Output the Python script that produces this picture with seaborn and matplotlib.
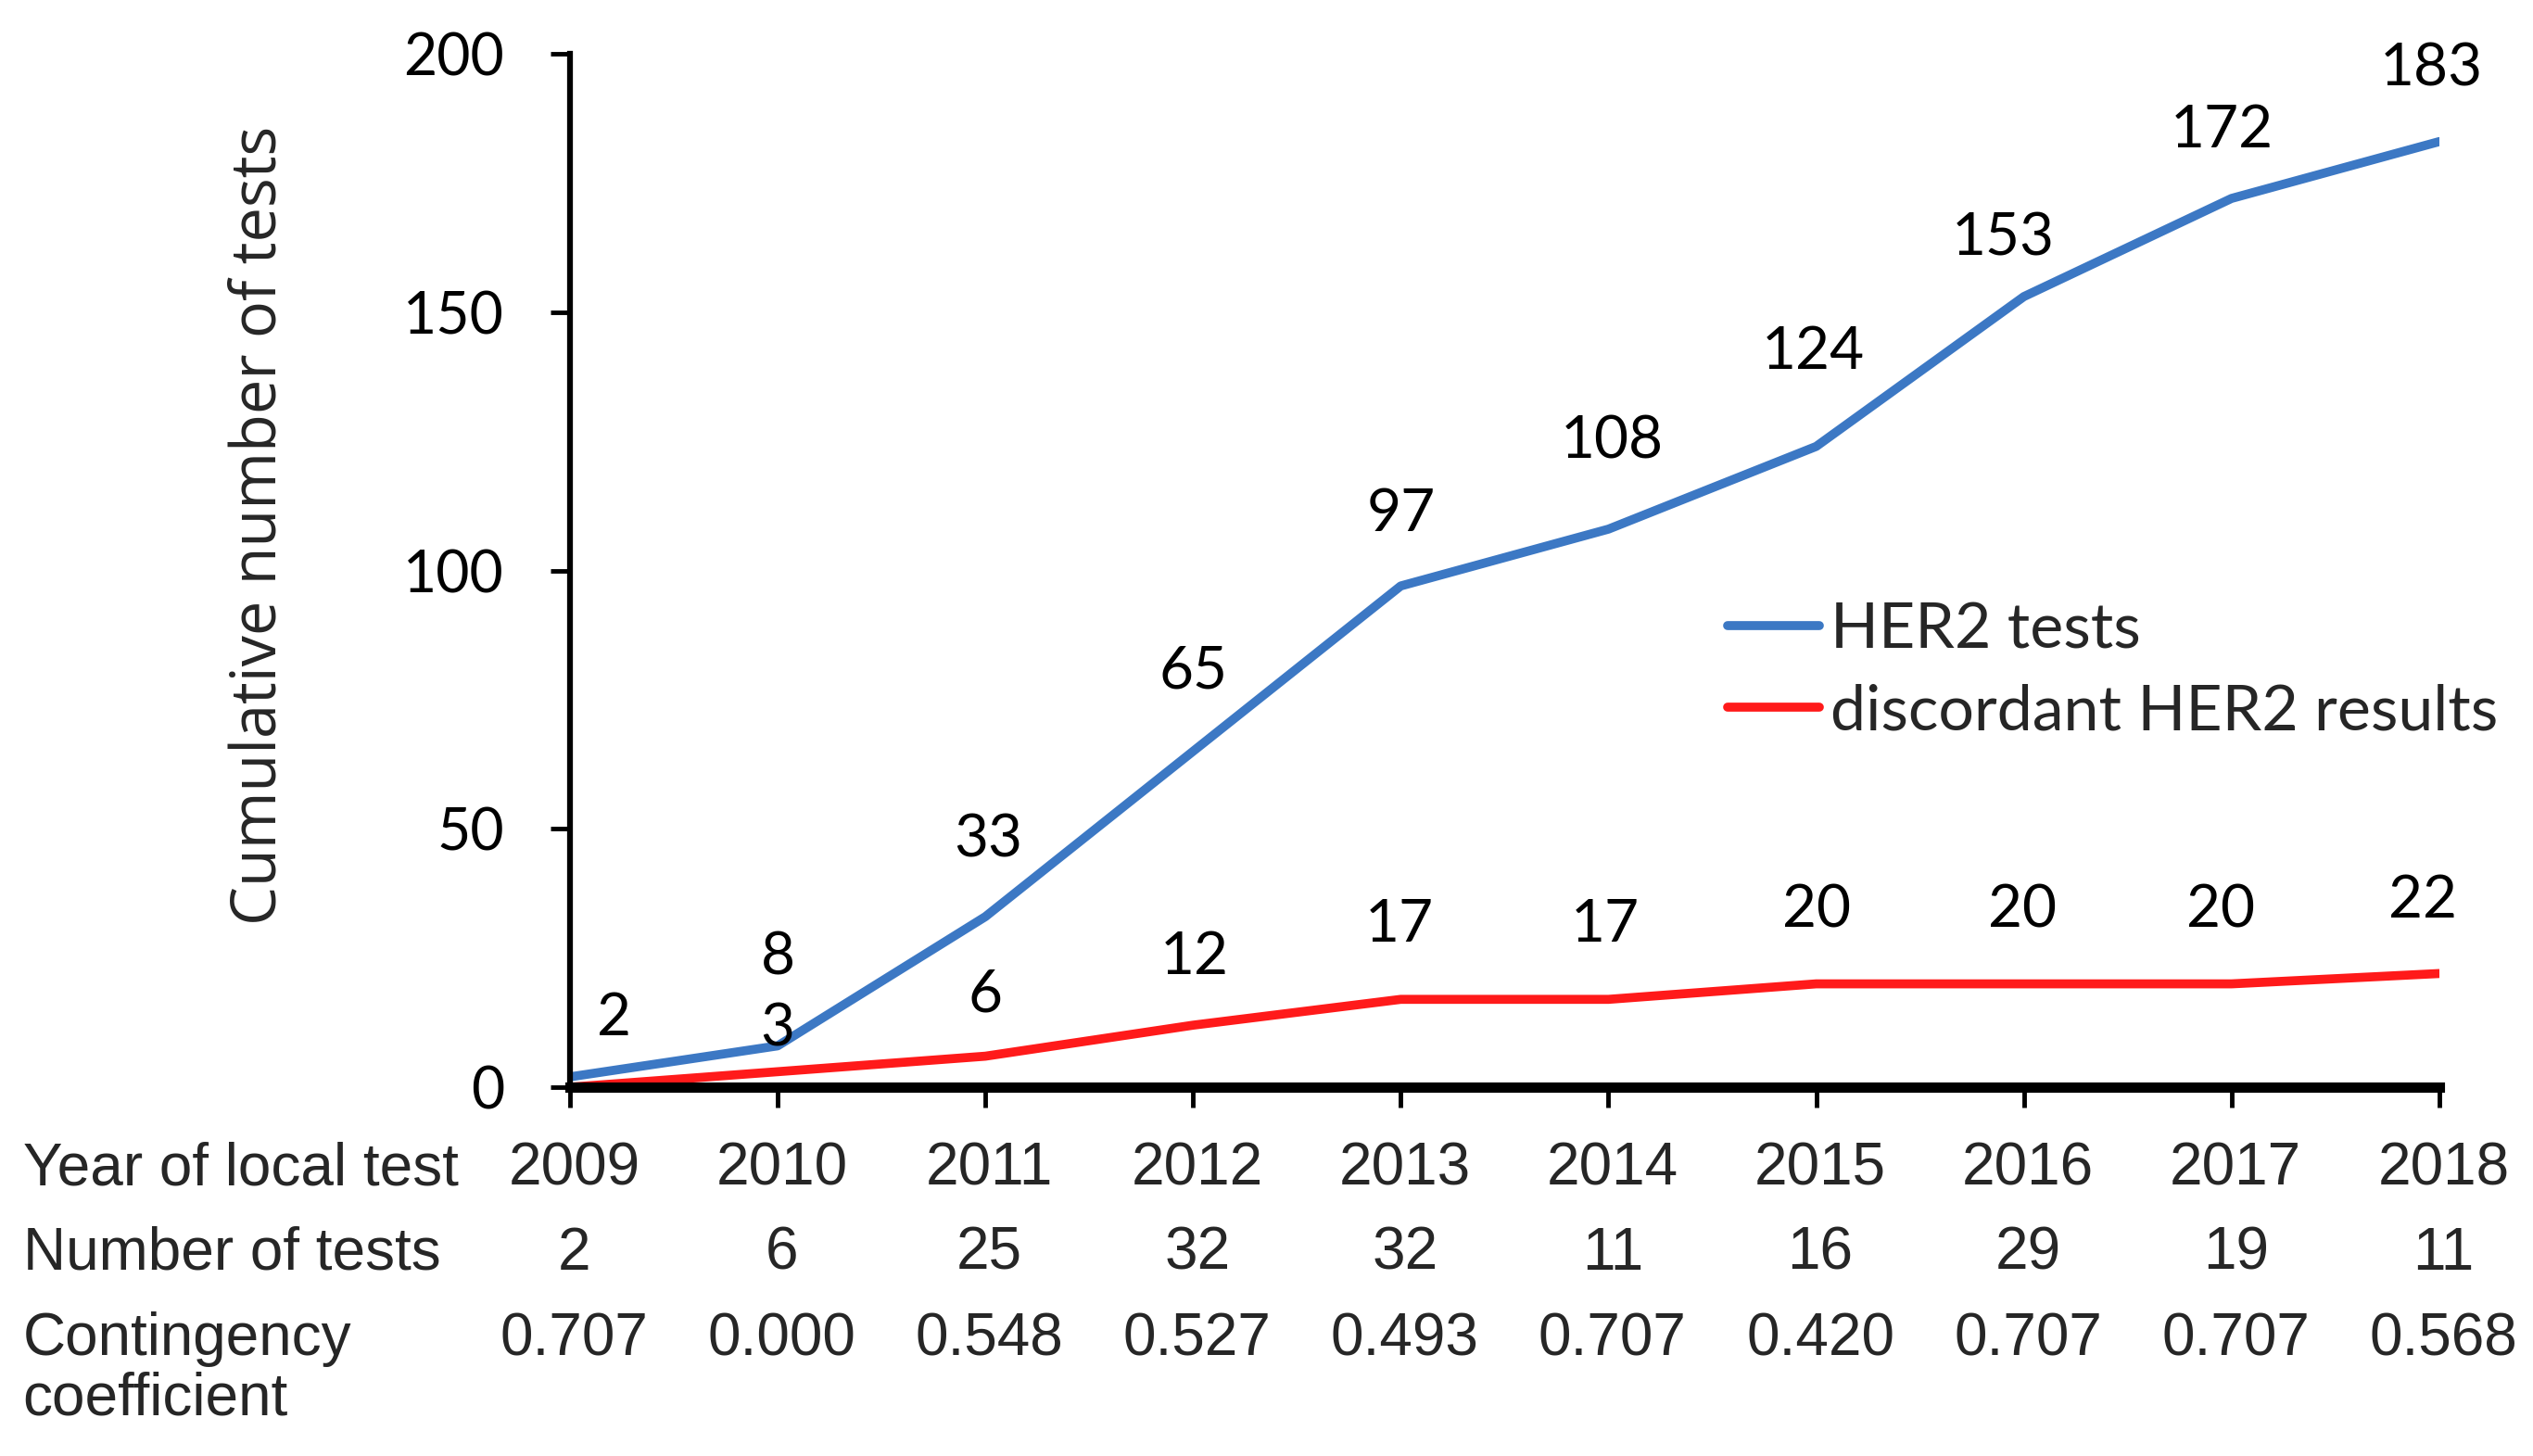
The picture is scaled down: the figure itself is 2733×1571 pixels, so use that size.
import matplotlib
matplotlib.use("Agg")
import matplotlib.pyplot as plt
import matplotlib.transforms as mtransforms
import seaborn as sns
import pandas as pd

years = [2009, 2010, 2011, 2012, 2013, 2014, 2015, 2016, 2017, 2018]
her2_tests = [2, 8, 33, 65, 97, 108, 124, 153, 172, 183]
discordant = [0, 3, 6, 12, 17, 17, 20, 20, 20, 22]
discordant_labels = [None, "3", "6", "12", "17", "17", "20", "20", "20", "22"]
number_of_tests = ["2", "6", "25", "32", "32", "11", "16", "29", "19", "11"]
contingency = ["0.707", "0.000", "0.548", "0.527", "0.493", "0.707", "0.420", "0.707", "0.707", "0.568"]
series_names = ["HER2 tests", "discordant HER2 results"]
yticks = [0, 50, 100, 150, 200]

# label offsets (points) -- styling only
blue_off = [(27, 36), (0, 54), (2, 47), (0, 49), (0, 44), (2, 54), (-2, 58), (-13, 36), (-6, 42), (-5, 45)]
red_off = [(0, 0), (0, 26), (0, 38), (1, 42), (-1, 46), (-2, 46), (0, 45), (-1, 45), (-7, 45), (-10, 45)]

sns.set_style("white")
plt.rcParams['font.family'] = ['Lato', 'DejaVu Sans']

fig = plt.figure(figsize=(27.33, 15.71), dpi=100)
ax = fig.add_axes([0.225, 0.2533, 0.963 - 0.225, 0.9631 - 0.2533])

df = pd.DataFrame({
    "year": years * 2,
    "value": her2_tests + discordant,
    "series": [series_names[0]] * len(years) + [series_names[1]] * len(years),
})
sns.lineplot(data=df, x="year", y="value", hue="series",
             palette={series_names[0]: "#3C78C4", series_names[1]: "#FF1A1A"},
             linewidth=7, ax=ax, legend=True)

FS = 45
ax.set_xlim(2009, 2018)
ax.set_ylim(0, 200)
ax.set_yticks(yticks)
ax.set_yticklabels([str(t) for t in yticks], fontsize=FS)
ax.set_xticks(years)
ax.set_xticklabels([])
ax.set_xlabel("")
ax.set_ylabel("")
for s in ["top", "right"]:
    ax.spines[s].set_visible(False)
ax.spines["left"].set_linewidth(4.5)
ax.spines["bottom"].set_linewidth(8)
ax.spines["left"].set_color("black")
ax.spines["bottom"].set_color("black")
ax.spines["left"].set_zorder(5)
ax.spines["bottom"].set_zorder(5)
ax.tick_params(axis="y", direction="out", length=15, width=3.5, pad=36, colors="black", left=True)
ax.tick_params(axis="x", direction="out", length=16, width=3.5, colors="black", bottom=True)
for lab in ax.get_yticklabels():
    lab.set_color("black")

k = 1.26
for i, (x, y) in enumerate(zip(years, her2_tests)):
    dx, dy = blue_off[i]
    ax.annotate(str(y), (x, y), xytext=(dx * k, dy * k), textcoords="offset points",
                ha="center", va="center", fontsize=FS + 1, color="black", annotation_clip=False)
for i, (x, y) in enumerate(zip(years, discordant)):
    if discordant_labels[i] is None:
        continue
    dx, dy = red_off[i]
    ax.annotate(discordant_labels[i], (x, y), xytext=(dx * k, dy * k), textcoords="offset points",
                ha="center", va="center", fontsize=FS + 1, color="black", annotation_clip=False)

leg = ax.legend(loc="center left", bbox_to_anchor=(0.682, 0.539), bbox_transform=fig.transFigure,
                frameon=False, fontsize=49, handlelength=1.45, handletextpad=0.18,
                borderpad=0, borderaxespad=0, labelspacing=0.38)
for line in leg.get_lines():
    line.set_linewidth(7)

# table below the axis
tfam = ['Liberation Sans Narrow', 'Liberation Sans', 'DejaVu Sans']
row_y = [0.197, 0.139, 0.080]
row_labels = ["Year of local test", "Number of tests", "Contingency"]
for ly, lt in zip(row_y, row_labels):
    fig.text(0.009, ly, lt, ha="left", va="center", fontsize=46, family=tfam)
fig.text(0.009, 0.039, "coefficient", ha="left", va="center", fontsize=46, family=tfam)
trans = mtransforms.blended_transform_factory(ax.transData, fig.transFigure)
rows = [[str(y) for y in years], number_of_tests, contingency]
for ly, vals in zip(row_y, rows):
    for x, v in zip(years, vals):
        ax.text(x + 0.02, ly, v, transform=trans, ha="center", va="center", fontsize=46, family=tfam,
                clip_on=False)

fig.text(0.1025, 0.639, "Cumulative number of tests", rotation=90, ha="center", va="center",
         fontsize=48, family=['Open Sans', 'DejaVu Sans'])

fig.savefig("out.png", dpi=100)
